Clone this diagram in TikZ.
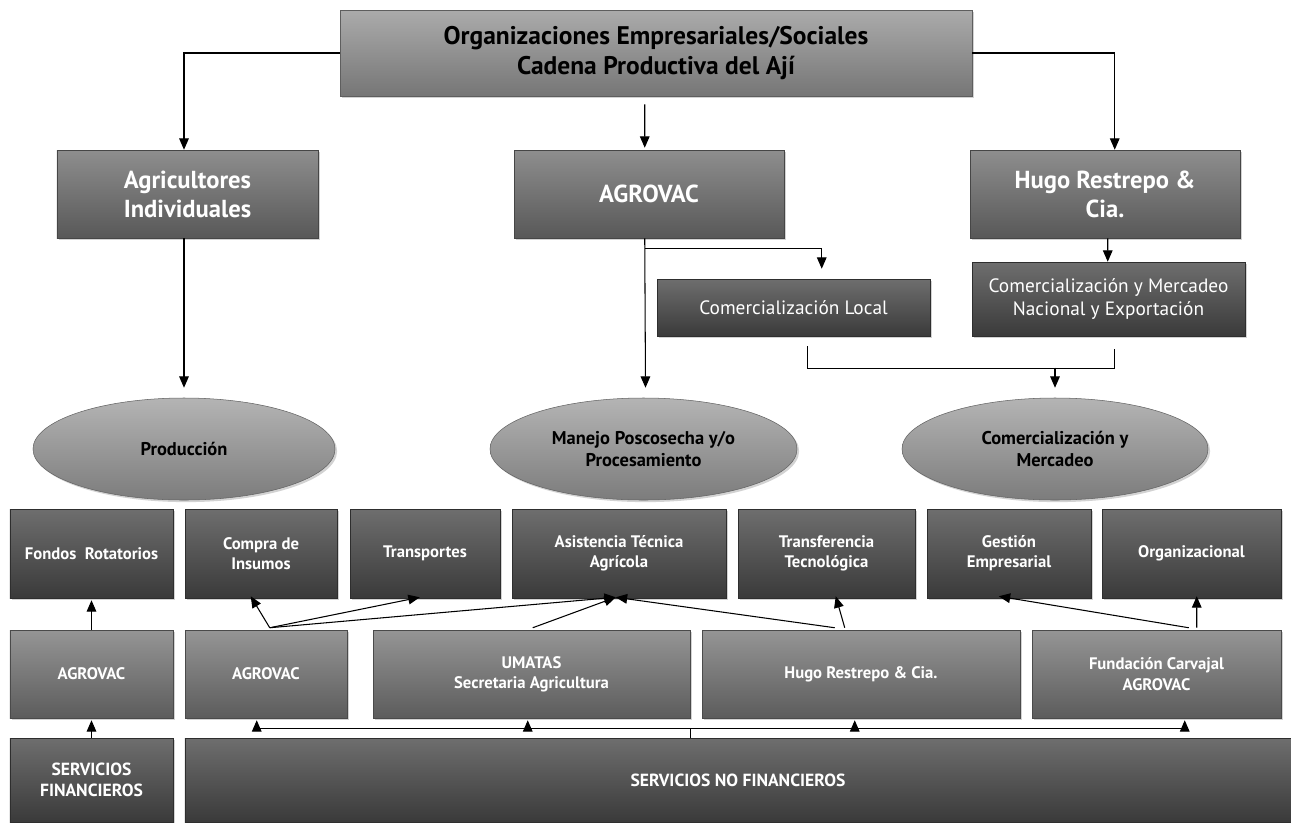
\documentclass[tikz,border=0pt]{standalone}
\usepackage{fontspec}
\setmainfont{PT Sans}
\usetikzlibrary{arrows.meta,calc,shapes.geometric,shadows}
\definecolor{cTopA}{HTML}{ABABAB}\definecolor{cTopB}{HTML}{767676}
\definecolor{cLvA}{HTML}{8E8E8E}\definecolor{cLvB}{HTML}{585858}
\definecolor{cDkA}{HTML}{6E6E6E}\definecolor{cDkB}{HTML}{3A3A3A}
\definecolor{cElA}{HTML}{B4B4B4}\definecolor{cElB}{HTML}{7C7C7C}
\definecolor{cMdA}{HTML}{959595}\definecolor{cMdB}{HTML}{5C5C5C}
\newcommand\bx[7]{%
  \pgfmathsetmacro\bxcx{(#2+#4)/2}\pgfmathsetmacro\bxcy{(#3+#5)/2}%
  \pgfmathsetmacro\bxw{(#4-#2)*0.02}\pgfmathsetmacro\bxh{(#5-#3)*0.02}%
  \node[#6, minimum width=\bxw cm, minimum height=\bxh cm] (#1) at (\bxcx,\bxcy) {#7};}
\tikzset{
  base/.style={inner sep=0pt, align=center, drop shadow={shadow xshift=1.2pt,shadow yshift=-1.2pt,opacity=0.35}},
  topbox/.style={base, rectangle, top color=cTopA, bottom color=cTopB, draw=cTopB!80!black, line width=0.3pt, text=black, font=\bfseries\fontsize{14.5}{17}\selectfont},
  lvbox/.style={base, rectangle, top color=cLvA, bottom color=cLvB, draw=cLvB!80!black, line width=0.3pt, text=white, font=\bfseries\fontsize{14}{16.5}\selectfont},
  combox/.style={base, rectangle, top color=cDkA, bottom color=cDkB, draw=cDkB!80!black, line width=0.3pt, text=white, font=\fontsize{11}{13.5}\selectfont},
  elbox/.style={base, ellipse, top color=cElA, bottom color=cElB, draw=cElB!80!black, line width=0.3pt, text=black, font=\bfseries\fontsize{10.5}{13}\selectfont},
  rowA/.style={base, rectangle, top color=cDkA, bottom color=cDkB, draw=cDkB!80!black, line width=0.3pt, text=white, font=\bfseries\fontsize{9.5}{11.5}\selectfont},
  rowB/.style={base, rectangle, top color=cMdA, bottom color=cMdB, draw=cMdB!80!black, line width=0.3pt, text=white, font=\bfseries\fontsize{9.5}{11.5}\selectfont},
  rowC/.style={base, rectangle, top color=cDkA, bottom color=cDkB, draw=cDkB!80!black, line width=0.3pt, text=white, font=\bfseries\fontsize{10}{12}\selectfont},
  arr/.style={draw=black, line width=0.6pt, -{Triangle[length=6.5pt,width=5.5pt]}},
  ln/.style={draw=black, line width=0.5pt},
}
\begin{document}
\begin{tikzpicture}[x=0.02cm,y=-0.02cm]
\useasboundingbox[fill=white] (0,0) rectangle (1291,822);
% top
\bx{top}{340}{10}{972}{96}{topbox}{Organizaciones Empresariales/Sociales\\Cadena Productiva del Ají}
% level 1
\bx{agri}{57}{150}{318}{238}{lvbox}{Agricultores\\Individuales}
\bx{agro}{514}{150}{784}{238}{lvbox}{AGROVAC}
\bx{hugo}{970}{150}{1240}{238}{lvbox}{Hugo Restrepo \&\\Cia.}
% commercial
\bx{local}{657}{279}{930}{336}{combox}{Comercialización Local}
\bx{nac}{972}{262}{1245}{336}{combox}{Comercialización y Mercadeo\\Nacional y Exportación}
% ellipses
\bx{prod}{33}{398}{335}{500}{elbox}{Producción}
\bx{mane}{490}{398}{797}{500}{elbox}{Manejo Poscosecha y/o\\Procesamiento}
\bx{merc}{902}{398}{1208}{500}{elbox}{Comercialización y\\Mercadeo}
% row A
\bx{fond}{10}{509}{173}{598}{rowA}{Fondos~~Rotatorios}
\bx{comp}{185}{509}{337}{598}{rowA}{Compra de\\Insumos}
\bx{tran}{350}{509}{500}{598}{rowA}{Transportes}
\bx{asis}{512}{509}{726}{598}{rowA}{Asistencia Técnica\\Agrícola}
\bx{tec}{738}{509}{915}{598}{rowA}{Transferencia\\Tecnológica}
\bx{gest}{927}{509}{1091}{598}{rowA}{Gestión\\Empresarial}
\bx{orga}{1102}{509}{1281}{598}{rowA}{Organizacional}
% row B
\bx{agA}{10}{630}{173}{718}{rowB}{AGROVAC}
\bx{agB}{185}{630}{347}{718}{rowB}{AGROVAC}
\bx{uma}{373}{630}{690}{718}{rowB}{UMATAS\\Secretaria Agricultura}
\bx{hug}{702}{630}{1020}{718}{rowB}{Hugo Restrepo \& Cia.}
\bx{fun}{1032}{630}{1281}{718}{rowB}{Fundación Carvajal\\AGROVAC}
% row C
\bx{sf}{10}{738}{173}{822}{rowC}{SERVICIOS\\FINANCIEROS}
\bx{snf}{185}{738}{1291}{822}{rowC}{SERVICIOS NO FINANCIEROS}

% top connectors
\draw[arr] (top.west) -| (prod.north |- agri.north);
\draw[arr] (top.east) -| ($(hugo.north west)+(145,0)$);
\draw[arr] ($(top.south west)+(305,8)$) -- ($(agro.north west)+(131,-2)$);
% level 1 down
\draw[arr] (prod.north |- agri.south) -- ($(prod.north)+(0,-10)$);
\coordinate (agj) at ($(agro.south west)+(131,10)$);
\draw[arr] ($(agro.south west)+(131,0)$) -- ($(mane.north)+(2,-10)$);
\draw[arr] (agj) -| ($(local.north west)+(165,-10)$);
\draw[arr] ($(hugo.south west)+(138,0)$) -- ($(nac.north west)+(136,0)$);
% merge to Comercializacion ellipse
\coordinate (mj) at ($(merc.north)+(0,-30)$);
\draw[ln] ($(local.south west)+(151,10)$) |- ($(nac.south west)+(143,32)$) -- ($(nac.south west)+(143,13)$);
\draw[arr] (mj) -- ($(merc.north)+(0,-10)$);
% row B -> row A
\draw[arr] (agA.north) -- ($(fond.south)+(0,2)$);
\draw[arr] (sf.north) -- ($(agA.south)+(0,2)$);
\coordinate (agBt) at ($(agB.north west)+(85,-2)$);
\draw[arr] (agBt) -- ($(comp.south west)+(66,-2)$);
\draw[arr] (agBt) -- ($(tran.south west)+(70,-1)$);
\draw[arr] (agBt) -- ($(asis.south west)+(104,-1)$);
\draw[arr] ($(uma.north west)+(160,-2)$) -- ($(asis.south west)+(104,-1)$);
\draw[arr] ($(hug.north west)+(133,-2)$) -- ($(asis.south west)+(104,-1)$);
\draw[arr] ($(hug.north west)+(143,-2)$) -- ($(tec.south west)+(98,-2)$);
\draw[arr] ($(fun.north west)+(157,-2)$) -- ($(gest.south west)+(72,-2)$);
\draw[arr] ($(fun.north west)+(165,-2)$) -- ($(orga.south west)+(95,-2)$);
% SNF distribution
\coordinate (sj) at ($(snf.north west)+(506,-10)$);
\draw[ln] (snf.north west -| sj) -- (sj);
\draw[ln] ($(agB.south west)+(72,10)$) -- ($(fun.south west)+(153,10)$);
\draw[arr] ($(agB.south west)+(72,10)$) -- ($(agB.south west)+(72,2)$);
\draw[arr] ($(uma.south west)+(155,10)$) -- ($(uma.south west)+(155,2)$);
\draw[arr] ($(hug.south west)+(153,10)$) -- ($(hug.south west)+(153,2)$);
\draw[arr] ($(fun.south west)+(153,10)$) -- ($(fun.south west)+(153,2)$);
\end{tikzpicture}
\end{document}
